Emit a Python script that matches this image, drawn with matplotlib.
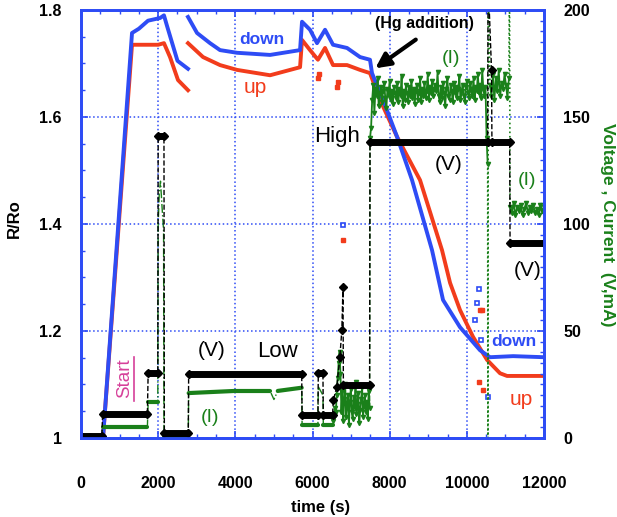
import numpy as np
import matplotlib
matplotlib.use("Agg")
import matplotlib.pyplot as plt
from matplotlib.lines import Line2D

plt.rcParams['font.family'] = ['Liberation Sans', 'DejaVu Sans']

nan = np.nan

# R/Ro curves (left axis)
down_t = [0, 250, 400, 570, 1322, 1500, 1737, 2050, 2150, 2230, 2500, 2773, nan,
          2773, 3007, 3344, 3603, 4044, 4900, 5677, 5728, 5936, 6117, 6325, 6532,
          6895, 7232, 7490, 7542, 7828, 8191, 8580, 9098, 9383, 9824, 10342, 10601, 11200, 12000]
down_r = [1.0, 1.005, 1.0, 1.0, 1.757, 1.765, 1.78, 1.785, 1.79, 1.77, 1.705, 1.69, nan,
          1.787, 1.757, 1.738, 1.725, 1.72, 1.716, 1.725, 1.778, 1.763, 1.738, 1.763, 1.735,
          1.729, 1.712, 1.707, 1.682, 1.632, 1.563, 1.482, 1.351, 1.258, 1.207, 1.164, 1.151, 1.153, 1.151]

up_t = [0, 250, 400, 570, 1322, 1348, 2000, 2150, 2307, 2514, 2773, nan,
        2773, 3162, 3603, 4044, 4900, 5677, 5728, 5936, 6140, 6325, 6532, 6895,
        7232, 7490, 7750, 8191, 8787, 9357, 9565, 9824, 10161, 10524, 10860, 11042, 12000]
up_r = [1.0, 1.005, 1.0, 1.0, 1.735, 1.735, 1.735, 1.738, 1.712, 1.669, 1.65, nan,
        1.738, 1.712, 1.697, 1.688, 1.678, 1.693, 1.744, 1.725, 1.707, 1.729, 1.697, 1.697,
        1.688, 1.682, 1.632, 1.563, 1.482, 1.351, 1.29, 1.239, 1.189, 1.146, 1.121, 1.116, 1.116]

# stray points
down_pts_t = [6790, 10220, 10270, 10320, 10370, 10560]
down_pts_r = [1.398, 1.22, 1.252, 1.278, 1.183, 1.077]
up_pts_t = [6790, 6150, 6180, 6640, 6660, 10320, 10350, 10400, 10420]
up_pts_r = [1.37, 1.673, 1.68, 1.656, 1.665, 1.105, 1.24, 1.24, 1.09]

# voltage (right axis)
volt_t = [0, 540, 560, 1720, 1740, 1990, 2000, 2150, 2160, 2780, 2790, 5720, 5730, 6140,
          6150, 6270, 6280, 6520, 6540, 6630, 6710, 6760, 6790, 6800, 7480, 7490, 10540,
          10550, 10640, 10650, 11110, 11120, 12000]
volt_v = [1, 1, 11.2, 11.2, 30.4, 30.4, 141, 141, 2.3, 2.3, 30, 30, 10.7, 10.7,
          30.4, 30.4, 10.7, 10.7, 17.7, 24, 38, 50.5, 70.5, 24.8, 24.8, 138.3, 138.3,
          215, 172, 138.3, 138.3, 91, 91]

# current (right axis), step parts
curr_t = [0, 540, 560, 1720, 1740, 1990, 2000, 2030, 2060, 2100, 2140, 2150, 2780, 2790,
          4000, 4900, 5000, 5100, 5720, 5730, 6140, 6150, 6270, 6280, 6520]
curr_v = [0.8, 0.8, 5.1, 5.1, 16.8, 16.8, 100, 115, 120, 108, 97, 1, 1, 21,
          22, 22, 18, 22, 23.5, 6, 6, 24, 20, 6, 6]

# current, noisy parts
noise1_v = [8, 10, 14, 12, 20, 28, 35, 40, 30, 12, 22, 8, 18, 25, 10, 15, 20, 6, 17, 23,
            12, 9, 19, 14, 26, 11, 16, 21, 7, 13, 18, 24, 10, 15, 20, 12, 17, 9, 22, 14]
noise2_v = [140, 145, 158, 165, 152, 163, 160, 168, 155, 161, 164, 157, 162, 166, 159, 154,
            163, 160, 167, 158, 162, 156, 164, 161, 159, 166, 157, 163, 160, 169, 155, 162,
            158, 165, 161, 157, 164, 160, 167, 159, 163, 156, 162, 165, 158, 161, 168, 157,
            163, 160, 166, 159, 162, 170, 158, 164, 161, 167, 160, 163, 165, 162, 171, 160,
            157, 164, 159, 166, 161, 155, 163, 168, 160, 158, 165, 162, 157, 166, 161, 164,
            159, 163, 169, 158, 162, 165, 160, 157, 164, 167, 161, 159, 166, 163, 160, 168,
            158, 164, 162, 170, 161, 165, 159, 172, 163, 160, 164, 140, 128]
noise3_v = [165, 160, 170, 158, 168, 162, 172, 160, 166, 163, 170, 165, 159, 168]
noise4_v = [108, 105, 110, 104, 108, 106, 109, 104, 107, 110, 105, 108, 106, 109, 105, 107,
            104, 109, 106, 108]
# off-scale current spikes between the noisy parts
spike1_t = [10545, 10550, 10555]
spike1_v = [0, 0, 220]
spike2_t = [11105]
spike2_v = [220]

BLUE = '#2e4cf5'
RED = '#f23c1c'
GREEN = '#1a801a'

fig = plt.figure(figsize=(6.17, 5.17), dpi=100)
ax = fig.add_axes([0.1313, 0.1528, 0.7504, 0.8279])
ax2 = ax.twinx()

ax.plot(up_t, up_r, color=RED, lw=2.8)
ax.plot(down_t, down_r, color=BLUE, lw=2.8)
ax.plot(up_pts_t, up_pts_r, 's', color=RED, ms=3, lw=0)
ax.plot(down_pts_t, down_pts_r, 's', color=BLUE, ms=3, mfc='none', mew=1.2, lw=0)

# current
ax2.plot(curr_t, curr_v, color=GREEN, lw=1, ls='-.')
for i in range(len(curr_t) - 1):
    if abs(curr_v[i + 1] - curr_v[i]) < 3:
        ax2.plot(curr_t[i:i + 2], curr_v[i:i + 2], color=GREEN, lw=3, solid_capstyle='round')
n1_t = np.linspace(6530, 7480, len(noise1_v))
n2_t = np.linspace(7490, 10540, len(noise2_v))
n3_t = np.linspace(10600, 11090, len(noise3_v))
n4_t = np.linspace(11120, 12000, len(noise4_v))
for nt, nv in [(n1_t, noise1_v), (n2_t, noise2_v), (n3_t, noise3_v), (n4_t, noise4_v)]:
    ax2.plot(nt, nv, color=GREEN, lw=1.3, ls='-', marker='v', ms=3)
ax2.plot([6520, n1_t[0]], [6, noise1_v[0]], color=GREEN, lw=1, ls=':')
ax2.plot([n1_t[-1], n2_t[0]], [noise1_v[-1], noise2_v[0]], color=GREEN, lw=1, ls='--')
ax2.plot([n2_t[-1]] + spike1_t + [n3_t[0]], [noise2_v[-1]] + spike1_v + [noise3_v[0]],
         color=GREEN, lw=1.2, ls=':')
ax2.plot([n3_t[-1]] + spike2_t + [n4_t[0]], [noise3_v[-1]] + spike2_v + [noise4_v[0]],
         color=GREEN, lw=1.2, ls=':')

# voltage
ax2.plot(volt_t, volt_v, color='black', lw=1, ls='--')
for i in range(len(volt_t) - 1):
    if volt_v[i + 1] == volt_v[i]:
        ax2.plot(volt_t[i:i + 2], volt_v[i:i + 2], color='black', lw=5, solid_capstyle='round')
ax2.plot(volt_t, volt_v, 'D', color='black', ms=4)

# axes styling
ax.set_xlim(0, 12000)
ax.set_ylim(1.0, 1.8)
ax2.set_ylim(0, 200)
ax.set_xticks(range(0, 12001, 2000))
ax.set_xticks(range(0, 12001, 500), minor=True)
ax.set_yticks([1.0, 1.2, 1.4, 1.6, 1.8])
ax.set_yticklabels(['1', '1.2', '1.4', '1.6', '1.8'])
ax.set_yticks(np.arange(1.0, 1.801, 0.05), minor=True)
ax2.set_yticks(range(0, 201, 50))
ax2.set_yticks(range(0, 201, 5), minor=True)
ax.grid(True, which='major', ls=':', color=BLUE, lw=1.1)

ax.tick_params(axis='both', which='both', direction='in', color=BLUE, top=True)
ax.tick_params(axis='x', which='major', length=5, width=1.2, pad=27)
ax.tick_params(axis='y', which='major', length=5, width=1.2, pad=14)
ax.tick_params(which='minor', length=3, width=1)
ax2.tick_params(axis='y', which='both', direction='in', color=BLUE, pad=14)
ax2.tick_params(axis='y', which='major', length=5, width=1.2)
ax2.tick_params(axis='y', which='minor', length=3, width=1)
for a in (ax, ax2):
    for lab in a.get_xticklabels() + a.get_yticklabels():
        lab.set_fontweight('bold')
        lab.set_fontsize(11.5)
    for sp in a.spines.values():
        sp.set_color(BLUE)
        sp.set_linewidth(2)

fig.text(0.024, 0.578, 'R/Ro', rotation=90, ha='center', va='center', fontsize=12, fontweight='bold')
fig.text(0.519, 0.019, 'time (s)', ha='center', va='center', fontsize=12, fontweight='bold')
fig.text(0.985, 0.565, 'Voltage , Current  (V,mA)', rotation=270, ha='center', va='center',
         fontsize=12.5, fontweight='bold', color=GREEN)

# annotations
ax2.text(4692, 186.0, 'down', color=BLUE, fontsize=12.5, fontweight='bold', ha='center', va='center')
ax2.text(4510, 163.6, 'up', color=RED, fontsize=15, ha='center', va='center')
ax2.text(11224, 45.3, 'down', color=BLUE, fontsize=12.5, fontweight='bold', ha='center', va='center')
ax2.text(11405, 18.2, 'up', color=RED, fontsize=15, ha='center', va='center')
ax2.text(8891, 193.9, '(Hg addition)', fontsize=11.5, fontweight='bold', ha='center', va='center')
ax2.annotate('', xy=(7569, 172.0), xytext=(8735, 186.9),
             arrowprops=dict(arrowstyle='-|>', color='black', lw=3, mutation_scale=22))
ax2.text(9590, 177.1, '(I)', color=GREEN, fontsize=14, ha='center', va='center')
ax2.text(11561, 120.1, '(I)', color=GREEN, fontsize=14, ha='center', va='center')
ax2.text(3344, 9.8, '(I)', color=GREEN, fontsize=14, ha='center', va='center')
ax2.text(9539, 127.6, '(V)', fontsize=15, ha='center', va='center')
ax2.text(11586, 78.5, '(V)', fontsize=15, ha='center', va='center')
ax2.text(3396, 40.7, '(V)', fontsize=15, ha='center', va='center')
ax2.text(6636, 140.7, 'High', fontsize=16, ha='center', va='center')
ax2.text(5080, 40.2, 'Low', fontsize=16, ha='center', va='center')
ax2.text(1140, 28.0, 'Start', color='#d6409a', fontsize=13.5, rotation=90, ha='center', va='center')
fig.add_artist(Line2D([0.2164, 0.2164], [0.2244, 0.3095], color='#d6409a', lw=1.2))

fig.savefig('out.png', dpi=100)
